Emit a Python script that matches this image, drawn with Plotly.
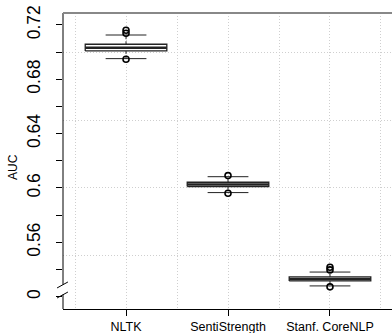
import plotly.graph_objects as go

methods = ["NLTK", "SentiStrength", "Stanf. CoreNLP"]
q1 = [0.7009, 0.6010, 0.5316]
median = [0.7033, 0.6026, 0.5330]
q3 = [0.7058, 0.6042, 0.5345]
lower_whisker = [0.6952, 0.5966, 0.5279]
upper_whisker = [0.7126, 0.6083, 0.5381]
outliers = [[0.7161, 0.7139, 0.6948], [0.6091, 0.5961], [0.5416, 0.5397, 0.5272]]

y_tick_vals = [0.52, 0.54, 0.56, 0.58, 0.60, 0.62, 0.64, 0.66, 0.68, 0.70, 0.72]
y_tick_text = ["0", "", "0.56", "", "0.6", "", "0.64", "", "0.68", "", "0.72"]
y_grid_vals = [0.55, 0.60, 0.65, 0.70]
x_grid_vals = [0.5, 1.0, 1.5, 2.0, 2.5, 3.0, 3.5]
y_range = [0.5109, 0.7288]
x_range = [0.382, 3.608]
# axis break (gap on the y axis and slash ends)
break_gap = [0.5215, 0.5288]
slash1 = [0.5264, 0.5308]
slash2 = [0.5190, 0.5234]

BOX_HALF = 0.4
STAPLE_HALF = 0.2
BOX_COLOR = "#222222"
GRID = dict(showgrid=True, gridcolor="#cfcfcf", griddash="1px,2px", gridwidth=1, ticks="")

fig = go.Figure()
for i, m in enumerate(methods):
    c = i + 1
    fig.add_trace(go.Scatter(x=[c, c, None, c, c],
                             y=[q3[i], upper_whisker[i], None, q1[i], lower_whisker[i]],
                             mode="lines", line=dict(color=BOX_COLOR, width=1, dash="3px,2px"),
                             hoverinfo="skip", showlegend=False))
    fig.add_trace(go.Scatter(x=[c - STAPLE_HALF, c + STAPLE_HALF, None, c - STAPLE_HALF, c + STAPLE_HALF],
                             y=[upper_whisker[i], upper_whisker[i], None, lower_whisker[i], lower_whisker[i]],
                             mode="lines", line=dict(color=BOX_COLOR, width=1),
                             hoverinfo="skip", showlegend=False))
    fig.add_trace(go.Scatter(x=[c - BOX_HALF, c + BOX_HALF, c + BOX_HALF, c - BOX_HALF, c - BOX_HALF],
                             y=[q1[i], q1[i], q3[i], q3[i], q1[i]],
                             mode="lines", fill="toself", fillcolor="white",
                             line=dict(color=BOX_COLOR, width=1.3),
                             hoverinfo="skip", showlegend=False))
    fig.add_trace(go.Scatter(x=[c - BOX_HALF, c + BOX_HALF], y=[median[i], median[i]],
                             mode="lines", line=dict(color=BOX_COLOR, width=2.5),
                             hoverinfo="skip", showlegend=False))
    fig.add_trace(go.Scatter(x=[c] * len(outliers[i]), y=outliers[i], mode="markers",
                             marker=dict(symbol="circle-open", size=6, color="black",
                                         line=dict(width=1.6)),
                             hoverinfo="skip", showlegend=False))

fig.update_layout(
    width=392, height=333,
    margin=dict(l=63, r=0, t=13, b=24),
    paper_bgcolor="white", plot_bgcolor="white",
    font=dict(family="Liberation Sans, Arial, sans-serif", color="black"),
    xaxis=dict(range=x_range, tickvals=[1, 2, 3], ticktext=methods,
               showline=True, linecolor="black", linewidth=1,
               ticks="outside", ticklen=6, tickcolor="black",
               tickfont=dict(size=12.5), showgrid=False, zeroline=False,
               minor=dict(tickvals=x_grid_vals, **GRID)),
    yaxis=dict(range=y_range, tickvals=y_tick_vals, ticktext=y_tick_text,
               showline=False, ticks="outside", ticklen=6, tickcolor="black",
               tickangle=-90, tickfont=dict(size=17.5), ticklabelstandoff=9,
               showgrid=False, zeroline=False,
               minor=dict(tickvals=y_grid_vals, **GRID)),
)

fig.add_shape(type="line", xref="paper", yref="y", x0=0, x1=0, y0=break_gap[1], y1=y_range[1],
              line=dict(color="black", width=1))
fig.add_shape(type="line", xref="paper", yref="y", x0=0, x1=0, y0=y_range[0], y1=break_gap[0],
              line=dict(color="black", width=1))
for s in (slash1, slash2):
    fig.add_shape(type="line", xref="paper", yref="y", x0=-0.018, x1=0.015, y0=s[0], y1=s[1],
                  line=dict(color="black", width=1))
fig.add_shape(type="line", xref="paper", yref="paper", x0=0, x1=1, y0=1, y1=1,
              line=dict(color="#888888", width=2))

fig.add_annotation(text="AUC", xref="paper", yref="paper", x=-0.152, y=0.48,
                   textangle=-90, showarrow=False, font=dict(size=12),
                   xanchor="center", yanchor="middle")

fig.write_html("out.html")
